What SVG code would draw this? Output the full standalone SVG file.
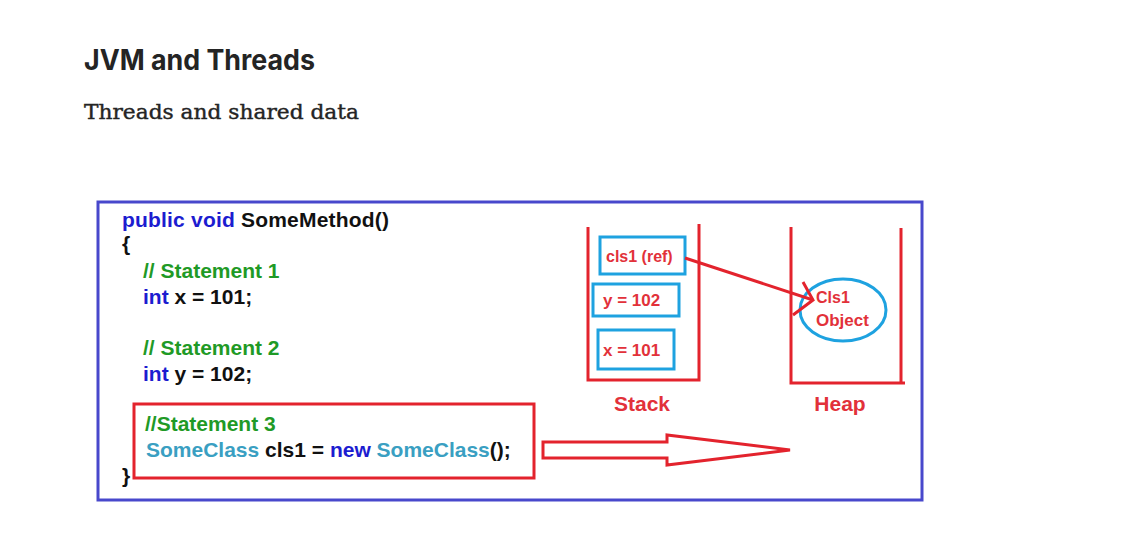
<svg xmlns="http://www.w3.org/2000/svg" width="1142" height="543" viewBox="0 0 1142 543">
<style>
.code{font-family:"Liberation Sans",Arial,sans-serif;font-weight:bold;font-size:21px;fill:#111}
.kw{fill:#1c1cd0}
.cm{fill:#1f9a26}
.cl{fill:#3a9fc2}
.red{stroke:#e3232d;stroke-width:3;fill:none}
.cyan{stroke:#1ea2e0;stroke-width:3;fill:#fff}
.lbl{font-family:"Liberation Sans",Arial,sans-serif;font-weight:bold;fill:#e2313a}
</style>
<rect width="1142" height="543" fill="#fff"/>
<g id="title">
<text x="84" y="70" font-family="Inter,Liberation Sans,Arial,sans-serif" font-weight="bold" font-size="28" fill="#242424" textLength="231" lengthAdjust="spacingAndGlyphs">JVM and Threads</text>
<text x="84" y="119" font-family="DejaVu Serif,Liberation Serif,serif" font-size="20" fill="#242424" stroke="#242424" stroke-width="0.4" textLength="275" lengthAdjust="spacingAndGlyphs">Threads and shared data</text>
</g>
<g id="frame">
<rect x="98" y="202" width="824" height="298" fill="#fff" stroke="#4848cc" stroke-width="3"/>
</g>
<g id="code" class="code">
<text x="122" y="227" textLength="267"><tspan class="kw">public void </tspan>SomeMethod()</text>
<text x="122" y="251">{</text>
<text x="143" y="278" class="cm">// Statement 1</text>
<text x="143" y="304"><tspan class="kw">int</tspan> x = 101;</text>
<text x="143" y="355" class="cm">// Statement 2</text>
<text x="143" y="381"><tspan class="kw">int</tspan> y = 102;</text>
<text x="122" y="483">}</text>
</g>
<g id="statement3">
<rect x="134" y="404" width="400" height="74" class="red"/>
<text class="code" x="145" y="431"><tspan class="cm">//Statement 3</tspan></text>
<text class="code" x="146" y="457"><tspan class="cl">SomeClass</tspan> cls1 = <tspan class="kw">new</tspan> <tspan class="cl">SomeClass</tspan>();</text>
</g>
<g id="stack">
<polyline points="588,227 588,380 699,380 699,224" class="red"/>
<text class="lbl" x="642" y="411" font-size="21" text-anchor="middle">Stack</text>
</g>
<g id="stack-cls1">
<rect x="600" y="237" width="85" height="37" class="cyan"/>
<text class="lbl" x="606" y="262" font-size="16">cls1 (ref)</text>
</g>
<g id="stack-y">
<rect x="593" y="284" width="86" height="32" class="cyan"/>
<text class="lbl" x="603" y="306" font-size="17">y = 102</text>
</g>
<g id="stack-x">
<rect x="598" y="330" width="76" height="39" class="cyan"/>
<text class="lbl" x="603" y="356" font-size="17">x = 101</text>
</g>
<g id="heap">
<polyline points="791,227 791,383 905,383" class="red"/>
<line x1="901" y1="228" x2="901" y2="383" class="red"/>
<text class="lbl" x="840" y="411" font-size="21" text-anchor="middle">Heap</text>
</g>
<g id="object">
<ellipse cx="843" cy="310" rx="43" ry="31" fill="#fff" stroke="#1ea2e0" stroke-width="3"/>
<text class="lbl" x="816" y="303" font-size="16">Cls1</text>
<text class="lbl" x="816" y="326" font-size="17">Object</text>
</g>
<g id="connectors">
<polyline points="685,258 813,300" class="red"/>
<polyline points="803,282 813,300 793,315" class="red"/>
<polygon points="543,442 667,442 667,435 790,450 667,465 667,458 543,458" fill="#fff" stroke="#e3232d" stroke-width="3"/>
</g>
</svg>
